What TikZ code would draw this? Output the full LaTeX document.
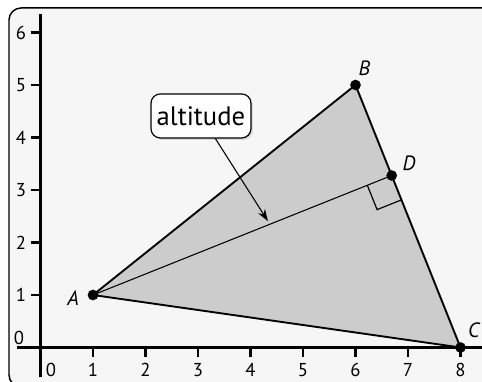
\documentclass[tikz,border=0pt]{standalone}
\usepackage{fontspec}
\setmainfont{PT Sans}
\usetikzlibrary{shadows,arrows.meta}
\definecolor{bgc}{HTML}{F6F6F6}
\definecolor{tri}{HTML}{CCCCCC}
\tikzset{
  axis/.style={line width=2.2pt},
  edge/.style={line width=1.4pt},
  tick/.style={line width=1.6pt},
  dot/.style={circle,fill=black,inner sep=0pt,minimum size=8pt},
  ptlabel/.style={font=\fontsize{15.5}{18}\selectfont\itshape},
  numlabel/.style={font=\fontsize{14}{16}\selectfont},
  callout/.style={draw,line width=0.9pt,rounded corners=7pt,fill=white,
    font=\fontsize{20}{22}\selectfont,inner xsep=2pt,inner ysep=2pt,
    minimum width=75pt,minimum height=33pt,
    drop shadow={opacity=0.22,shadow xshift=1.5pt,shadow yshift=-1.5pt}}
}
\begin{document}
\begin{tikzpicture}[x=39.375pt,y=39.375pt]
\useasboundingbox (-0.7714,-0.657) rectangle (8.4095,6.619);
% frame
\draw[line width=1.1pt,fill=bgc,rounded corners=9pt] (-0.6,-0.75) rectangle (8.7,6.467);
% triangle
\coordinate (A) at (1,1);
\coordinate (B) at (6,5);
\coordinate (C) at (8,0);
\coordinate (D) at (6.6897,3.2759);
\fill[tri] (A) -- (B) -- (C) -- cycle;
% right angle marker
\coordinate (P1) at (6.2254,3.0902);
\coordinate (P2) at (6.4111,2.6260);
\coordinate (P3) at (6.8754,2.8117);
\draw[line width=0.9pt] (P1) -- (P2) -- (P3);
% altitude
\draw[line width=0.8pt] (A) -- (D);
\draw[edge,line join=round] (A) -- (B) -- (C) -- cycle;
% axes
\coordinate (xs) at (-0.448,0);
\coordinate (xe) at (8.45,0);
\coordinate (ys) at (0,-0.562);
\coordinate (ye) at (0,6.352);
\draw[axis] (xs) -- (xe);
\draw[axis] (ys) -- (ye);
\foreach \i in {1,...,8} {
  \draw[tick] (\i,0) -- (\i,-0.19);
  \node[numlabel] (xl\i) at (\i,-0.43) {\i};
}
\node[numlabel] (xl0) at (0.2,-0.43) {0};
\foreach \j in {1,...,6} {
  \draw[tick] (0,\j) -- (-0.19,\j);
  \node[numlabel] (yl\j) at (-0.37,\j) {\j};
}
\node[numlabel] (yl0) at (-0.41,0.18) {0};
% points
\node[dot] (a) at (A) {};
\node[dot] (b) at (B) {};
\node[dot] (c) at (C) {};
\node[dot] (d) at (D) {};
\node[ptlabel] (la) at (0.62,0.94) {A};
\node[ptlabel] (lb) at (6.17,5.32) {B};
\node[ptlabel] (ld) at (7.02,3.51) {D};
\node[ptlabel] (lc) at (8.25,0.33) {C};
% callout
\node[callout] (box) at (3.057,4.41) {altitude};
\coordinate (tip) at (4.333,2.405);
\draw[line width=0.8pt,-{Stealth[length=9pt,width=6pt]}] (box) -- (tip);
\end{tikzpicture}
\end{document}
